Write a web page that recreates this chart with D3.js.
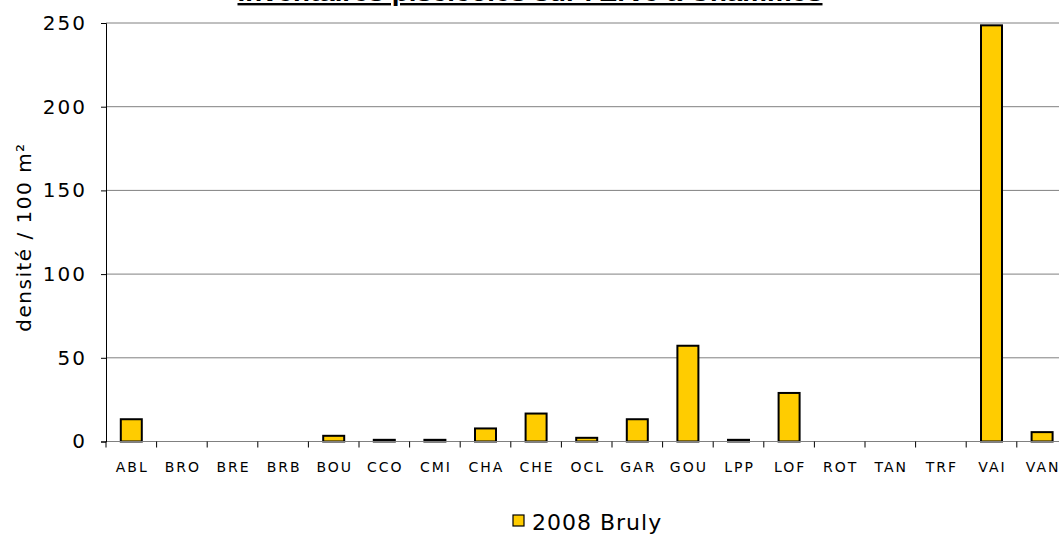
<!DOCTYPE html>
<html><head><meta charset="utf-8">
<script src="https://cdn.jsdelivr.net/npm/d3@7"></script>
<style>body{margin:0;background:#fff}svg{display:block}</style>
</head><body>
<svg id="c" width="1059" height="536"></svg>
<script>
const categories = ["ABL","BRO","BRE","BRB","BOU","CCO","CMI","CHA","CHE","OCL","GAR","GOU","LPP","LOF","ROT","TAN","TRF","VAI","VAN"];
const values = [13.3,0,0,0,3.4,1,1,7.8,16.7,2.2,13.3,57.2,1,29,0,0,0,248.6,5.6];
const yTicks = [0,50,100,150,200,250];
const seriesName = "2008 Bruly";
const title = "Inventaires piscicoles sur l'Erve à Chammes";
const yTitle = "densité / 100 m²";

const svg = d3.select("#c");
const mLeft = 106, mTop = 23, mBottom = 441.5, bandW = 50.6;
const x = d3.scaleBand().domain(categories).range([mLeft, mLeft + bandW*categories.length]).paddingInner(0).paddingOuter(0);
const y = d3.scaleLinear().domain([0,250]).range([mBottom, mTop]);

// gridlines
svg.append("g").selectAll("line").data(yTicks.filter(d=>d>0)).join("line")
  .attr("x1", mLeft).attr("x2", 1059).attr("y1", d=>y(d)).attr("y2", d=>y(d))
  .attr("stroke", "#808080").attr("stroke-width", 1);

// bars
const bw = 21;
svg.append("g").selectAll("rect").data(categories.map((c,i)=>({c,v:values[i]})).filter(d=>d.v>0)).join("rect")
  .attr("x", d=>x(d.c)+x.bandwidth()/2-bw/2).attr("width", bw)
  .attr("y", d=>y(d.v)).attr("height", d=>mBottom-y(d.v))
  .attr("fill", "#FFCC00").attr("stroke", "#000").attr("stroke-width", 2);

// x axis
const xg = svg.append("g");
xg.append("line").attr("x1", mLeft).attr("x2", 1059).attr("y1", mBottom).attr("y2", mBottom).attr("stroke", "#808080").attr("stroke-width", 1);
xg.selectAll("line.t").data(categories).join("line").attr("class","t")
  .attr("x1", d=>x(d)).attr("x2", d=>x(d)).attr("y1", mBottom).attr("y2", mBottom+6)
  .attr("stroke", "#000").attr("stroke-width", 1);
xg.selectAll("text").data(categories).join("text")
  .attr("x", d=>x(d)+x.bandwidth()/2+1).attr("y", 472)
  .attr("text-anchor", "middle").attr("font-family", "DejaVu Sans").attr("font-size", 14)
  .attr("letter-spacing", 2).attr("fill", "#000").text(d=>d);

// y axis
const yAxis = d3.axisLeft(y).tickValues(yTicks).tickSize(5).tickPadding(14);
const yg = svg.append("g").attr("transform", `translate(${mLeft},0)`).call(yAxis);
yg.select(".domain").attr("stroke", "#000");
yg.selectAll(".tick line").attr("stroke", "#000");
yg.selectAll(".tick text").attr("font-family", "DejaVu Sans").attr("font-size", 20).attr("letter-spacing", 2).attr("fill", "#000");

// y title
svg.append("text").attr("transform", "translate(31,237) rotate(-90)")
  .attr("text-anchor", "middle").attr("font-family", "DejaVu Sans").attr("font-size", 20)
  .attr("letter-spacing", 1.5).attr("fill", "#000").text(yTitle);

// title
svg.append("text").attr("x", 530).attr("y", 1).attr("text-anchor", "middle")
  .attr("font-family", "Liberation Sans").attr("font-weight", "bold").attr("font-size", 24)
  .attr("textLength", 585).attr("lengthAdjust", "spacingAndGlyphs")
  .attr("text-decoration", "underline").attr("fill", "#000").text(title);

// legend
const lg = svg.append("g");
lg.append("rect").attr("x", 513).attr("y", 515).attr("width", 11).attr("height", 11)
  .attr("fill", "#FFCC00").attr("stroke", "#000").attr("stroke-width", 1.2);
lg.append("text").attr("x", 532).attr("y", 530).attr("font-family", "DejaVu Sans").attr("font-size", 22)
  .attr("letter-spacing", 1).attr("fill", "#000").text(seriesName);
</script>
</body></html>
